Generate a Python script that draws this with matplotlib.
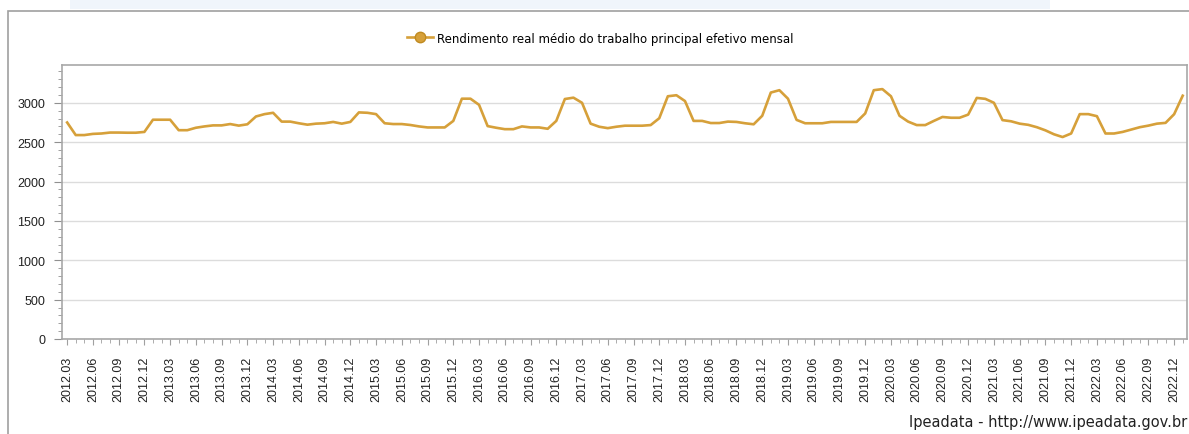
import matplotlib.pyplot as plt
from matplotlib.lines import Line2D
from matplotlib.patches import Rectangle
from matplotlib.ticker import MultipleLocator, FixedLocator
import pandas as pd

plt.rcParams['font.family'] = ['Liberation Sans', 'DejaVu Sans']

# Monthly periods 2012.03 .. 2023.01
periods = pd.period_range('2012-03', '2023-01', freq='M')
labels = [f"{p.year}.{p.month:02d}" for p in periods]

# Rendimento real medio do trabalho principal efetivo mensal (R$)
rendimento = [
    2750, 2590, 2590, 2605, 2610, 2622, 2622, 2620, 2620, 2630,   # 2012.03-2012.12
    2785, 2785, 2785, 2652, 2652, 2683, 2700, 2713, 2713, 2730, 2710, 2727,   # 2013
    2826, 2856, 2873, 2761, 2761, 2740, 2722, 2735, 2740, 2757, 2735, 2757,   # 2014
    2878, 2873, 2856, 2740, 2730, 2730, 2718, 2700, 2687, 2687, 2687, 2770,   # 2015
    3052, 3052, 2974, 2704, 2683, 2665, 2665, 2700, 2687, 2687, 2670, 2770,   # 2016
    3048, 3065, 3000, 2735, 2696, 2678, 2696, 2709, 2709, 2709, 2717, 2804,   # 2017
    3083, 3096, 3022, 2770, 2770, 2743, 2743, 2761, 2757, 2740, 2727, 2835,   # 2018
    3130, 3160, 3052, 2783, 2740, 2740, 2740, 2757, 2757, 2757, 2757, 2865,   # 2019
    3160, 3174, 3083, 2835, 2761, 2717, 2717, 2770, 2820, 2810, 2810, 2850,   # 2020
    3062, 3050, 3000, 2780, 2765, 2735, 2720, 2690, 2650, 2600, 2565, 2610,   # 2021
    2856, 2856, 2830, 2610, 2610, 2630, 2660, 2690, 2710, 2735, 2745, 2855,   # 2022
    3090,                                                                     # 2023.01
]

line_color = '#D6A03A'
x = list(range(len(rendimento)))

fig = plt.figure(figsize=(11.89, 4.35), dpi=100)

# page decorations: light band on top and the outer frame
fig.patches.append(Rectangle((70 / 1189, 1 - 10 / 435), 980 / 1189, 10 / 435,
                             transform=fig.transFigure, facecolor='#F0F5FB',
                             edgecolor='none', zorder=0))
fig.patches.append(Rectangle((8 / 1189, -0.05), 1.1, 1 - 12 / 435 + 0.05,
                             transform=fig.transFigure, facecolor='none',
                             edgecolor='#A0A0A0', linewidth=1.2, zorder=1))

ax = fig.add_axes([62 / 1189, 1 - 340 / 435, (1187 - 62) / 1189, (340 - 66) / 435])
ax.plot(x, rendimento, color=line_color, linewidth=1.9, solid_joinstyle='round')

ax.set_xlim(-0.6, len(rendimento) - 0.5)
ax.set_ylim(0, 3480)

ax.yaxis.set_major_locator(MultipleLocator(500))
ax.yaxis.set_minor_locator(MultipleLocator(100))
ax.grid(axis='y', which='major', color='#DCDCDC', linewidth=1)
ax.set_axisbelow(True)

major_idx = [i for i, lab in enumerate(labels) if lab[-2:] in ('03', '06', '09', '12')]
ax.xaxis.set_major_locator(FixedLocator(major_idx))
ax.xaxis.set_minor_locator(MultipleLocator(1))
ax.set_xticklabels([labels[i] for i in major_idx], rotation=90, fontsize=9, color='#222222')

ax.tick_params(axis='y', which='major', length=6, color='#909090', labelsize=9,
               labelcolor='#222222', pad=6)
ax.tick_params(axis='y', which='minor', length=3, color='#909090')
ax.tick_params(axis='x', which='major', length=4, color='#A0A0A0', pad=8)
ax.tick_params(axis='x', which='minor', length=3, color='#A0A0A0')

for side in ['left', 'bottom', 'top', 'right']:
    ax.spines[side].set_color('#A8A8A8')
    ax.spines[side].set_linewidth(1.2)

handle = Line2D([0], [0], color=line_color, linewidth=1.9, marker='o',
                markersize=7.5, markerfacecolor=line_color, markeredgecolor='#C08A20')
fig.legend([handle], ['Rendimento real médio do trabalho principal efetivo mensal'],
           loc='center', bbox_to_anchor=(600 / 1189, 1 - 39 / 435), frameon=False,
           handlelength=2.2, handletextpad=0.3,
           prop={'family': ['DejaVu Sans'], 'size': 8.5})

fig.text(1187 / 1189, 1 - 423 / 435, 'Ipeadata - http://www.ipeadata.gov.br',
         fontsize=10.5, family='DejaVu Sans', color='#222222', va='center', ha='right')

fig.savefig('out.png', dpi=100)
